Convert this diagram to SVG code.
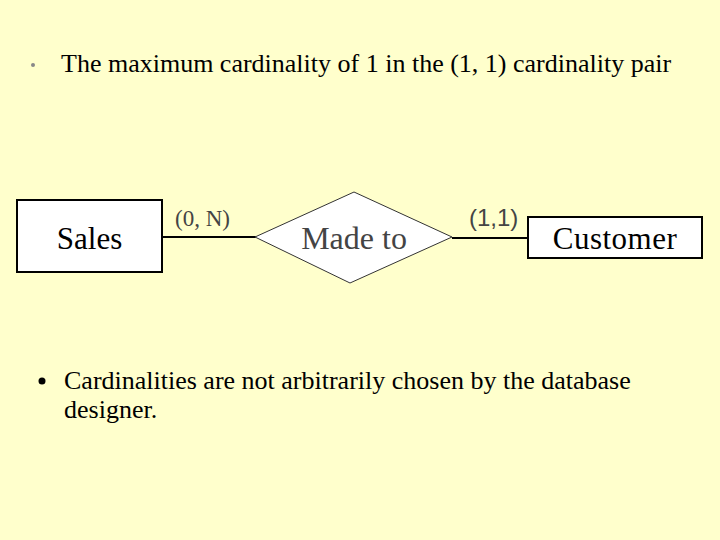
<svg xmlns="http://www.w3.org/2000/svg" width="720" height="540" viewBox="0 0 720 540">
<style>
.t{font-family:"Liberation Serif","Times New Roman",serif;fill:#000}
.ent{fill:#fff;stroke:#000;stroke-width:2}
.ln{stroke:#000;stroke-width:2;fill:none}
</style>
<rect width="720" height="540" fill="#FFFFCC"/>
<circle cx="33" cy="65" r="2" fill="#888"/>
<text class="t" x="61" y="72" font-size="26">The maximum cardinality of 1 in the (1, 1) cardinality pair</text>
<g id="connectors">
<line class="ln" x1="162" y1="237" x2="256" y2="237"/>
<line class="ln" x1="452" y1="238" x2="528" y2="238"/>
<text class="t" x="175" y="226" font-size="23" style="fill:#444">(0, N)</text>
<text x="469" y="226" font-size="24" font-family="Liberation Sans, Arial, sans-serif" fill="#444">(1,1)</text>
</g>
<g id="sales">
<rect class="ent" x="17" y="200" width="145" height="72"/>
<text class="t" x="89.5" y="249" font-size="31" text-anchor="middle">Sales</text>
</g>
<g id="madeto">
<polygon points="255,237 354,192 452,237 350,283" fill="#fff" stroke="#333" stroke-width="1"/>
<text class="t" x="354" y="249" font-size="32" text-anchor="middle" style="fill:#444">Made to</text>
</g>
<g id="customer">
<rect class="ent" x="528" y="217" width="174" height="41"/>
<text class="t" x="615" y="249" font-size="31" text-anchor="middle" letter-spacing="0.5">Customer</text>
</g>
<circle cx="42" cy="381" r="3.5" fill="#000"/>
<text class="t" x="64" y="389" font-size="26">Cardinalities are not arbitrarily chosen by the database</text>
<text class="t" x="64" y="418" font-size="26">designer.</text>
</svg>
